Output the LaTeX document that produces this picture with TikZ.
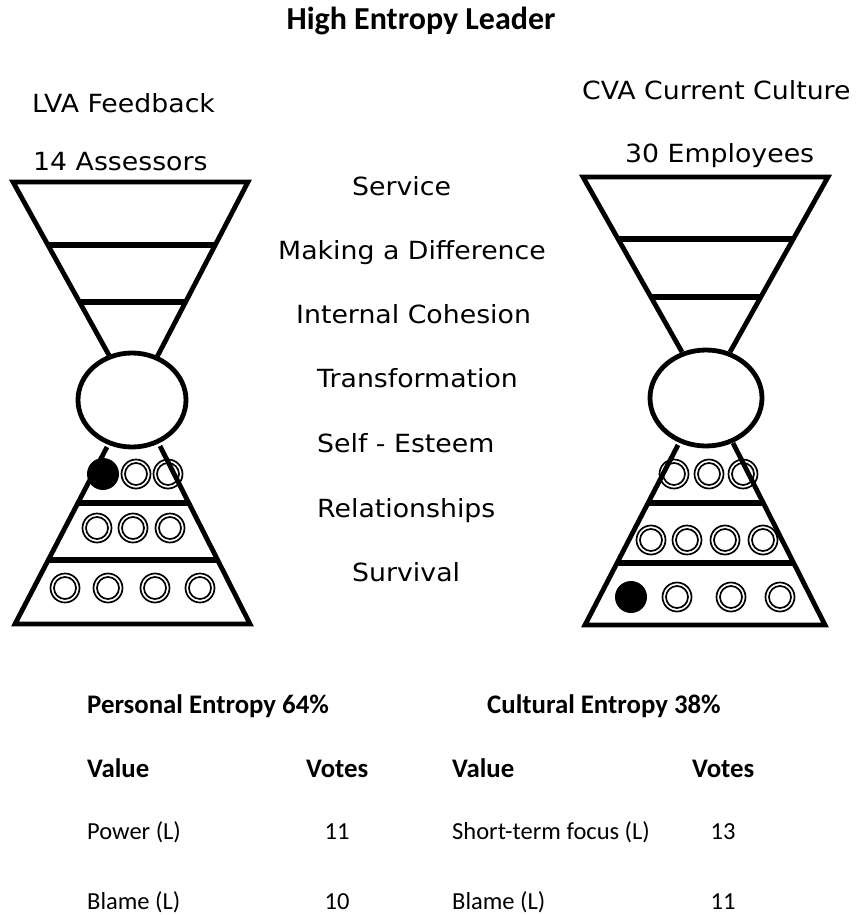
\documentclass[tikz,border=0pt]{standalone}
\usepackage{fontspec}
\setmainfont{DejaVu Sans}
\newfontfamily\verdfont[FakeStretch=1.07]{DejaVu Sans}
\newfontfamily\calfont{Carlito}
\begin{document}
\begin{tikzpicture}[x=1pt,y=-1pt,
  lbl/.style={anchor=base west, inner sep=0pt, font=\verdfont\fontsize{25}{30}\selectfont},
  ttl/.style={anchor=base, inner sep=0pt, font=\calfont\bfseries\fontsize{32}{37}\selectfont},
  hdr/.style={anchor=base west, inner sep=0pt, font=\calfont\bfseries\fontsize{26.8}{30}\selectfont},
  cell/.style={anchor=base west, inner sep=0pt, font=\calfont\fontsize{24.5}{30}\selectfont},
  num/.style={anchor=base, inner sep=0pt, font=\calfont\fontsize{24.5}{30}\selectfont},
  funnel/.style={line width=4.8pt, line join=miter},
  bar/.style={line width=5.2pt},
  neck/.style={line width=4.8pt},
  ringo/.style={line width=1.7pt},
  dot/.style={fill=black}
]
\useasboundingbox (0,0) rectangle (857,915);
\fill[white] (0,0) rectangle (857,915);

% Title
\node[ttl] (title) at (421,29.5) {High Entropy Leader};

% Top labels
\node[lbl] (lva) at (32,113) {LVA Feedback};
\node[lbl] (ass) at (33,170) {14 Assessors};
\node[lbl] (cva) at (582,100) {CVA Current Culture};
\node[lbl] (emp) at (625,162) {30 Employees};

% Middle level labels
\node[lbl] (l1) at (352,195) {Service};
\node[lbl] (l2) at (278,259) {Making a Difference};
\node[lbl] (l3) at (296,323) {Internal Cohesion};
\node[lbl] (l4) at (317,387) {Transformation};
\node[lbl] (l5) at (317,452) {Self - Esteem};
\node[lbl] (l6) at (317,517) {Relationships};
\node[lbl] (l7) at (352,581) {Survival};

% ---------- Left hourglass ----------
\draw[funnel] (110,357) -- (13,182) -- (248,182) -- (157,357);
\draw[bar] (48,245) -- (215,245);
\draw[bar] (80,302) -- (186,302);
\draw[neck] (132,400) ellipse [x radius=54, y radius=47];
\draw[funnel] (107,447) -- (15,624) -- (250,624) -- (160,446);
\draw[bar] (78,503) -- (189,503);
\draw[bar] (49,560) -- (218,560);
% circles
\fill[dot] (103,474) circle [radius=16];
\foreach \cx/\cy in {136/474,168/474, 97/528,133/528,170/528, 65/588,108/588,155/588,200/588}{
  \draw[ringo] (\cx,\cy) circle [radius=14.5];
  \draw[ringo] (\cx,\cy) circle [radius=11];
}

% ---------- Right hourglass ----------
\draw[funnel] (682,352) -- (583,177) -- (828,177) -- (730,352);
\draw[bar] (618,239) -- (793,239);
\draw[bar] (651,297) -- (761,297);
\draw[neck] (706,398) ellipse [x radius=56, y radius=48];
\draw[funnel] (678,445) -- (585,625) -- (825,625) -- (733,443);
\draw[bar] (648,503) -- (763,503);
\draw[bar] (617,563) -- (793,563);
\fill[dot] (631,597) circle [radius=16];
\foreach \cx/\cy in {674/474,709/474,743/474, 651/540,687/540,725/540,763/540, 677/597,731/597,780/597}{
  \draw[ringo] (\cx,\cy) circle [radius=14.5];
  \draw[ringo] (\cx,\cy) circle [radius=11];
}

% ---------- Table ----------
\node[hdr] (pe) at (87,713) {Personal Entropy 64\%};
\node[hdr] (ce) at (487,713) {Cultural Entropy 38\%};
\node[hdr] (v1) at (87,777) {Value};
\node[hdr] (vo1) at (306,777) {Votes};
\node[hdr] (v2) at (452,777) {Value};
\node[hdr] (vo2) at (692,777) {Votes};
\node[cell] (p1) at (87,839) {Power (L)};
\node[num] (n1) at (337,839) {11};
\node[cell] (s1) at (452,839) {Short-term focus (L)};
\node[num] (n3) at (723,839) {13};
\node[cell] (b1) at (87,909) {Blame (L)};
\node[num] (n2) at (337,909) {10};
\node[cell] (b2) at (452,909) {Blame (L)};
\node[num] (n4) at (723,909) {11};
\end{tikzpicture}
\end{document}
